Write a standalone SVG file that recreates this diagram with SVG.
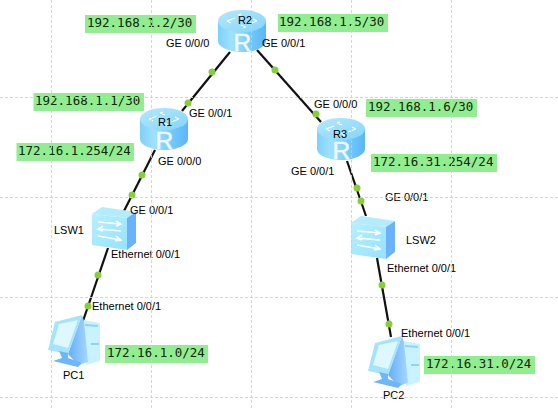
<svg xmlns="http://www.w3.org/2000/svg" width="558" height="409" viewBox="0 0 558 409">
<style>
.grid{stroke:#cfcfcf;stroke-width:1;stroke-dasharray:3 2;fill:none}
.link{stroke:#111;stroke-width:2.2;fill:none}
.dot{fill:#86cf3a}
.t{font-family:"Liberation Sans",Arial,sans-serif;font-size:11px;fill:#000}
.ip{font-family:"DejaVu Sans Mono","Liberation Mono",monospace;font-size:12.5px;fill:#16240a}
.ipbg{fill:#90ee90;height:18px}
.rarrow{fill:none;stroke:#fff;stroke-width:1.2}
</style>
<defs>
<linearGradient id="rb" x1="0" x2="1" y1="0" y2="0">
<stop offset="0" stop-color="#7fd0fb"/><stop offset=".3" stop-color="#9fe2fe"/><stop offset=".75" stop-color="#6cc4fa"/><stop offset="1" stop-color="#5cb6f6"/>
</linearGradient>
<linearGradient id="rt" x1="0" x2="1" y1="0" y2="1">
<stop offset="0" stop-color="#b4e9fe"/><stop offset="1" stop-color="#84d4fb"/>
</linearGradient>
<linearGradient id="sw" x1="0" x2="1" y1="0" y2="1">
<stop offset="0" stop-color="#b6f0ff"/><stop offset="1" stop-color="#96e2fc"/>
</linearGradient>
<linearGradient id="pb" x1="0" x2="1" y1="0" y2="0">
<stop offset="0" stop-color="#64aefa"/><stop offset="1" stop-color="#a6d6fd"/>
</linearGradient>
<symbol id="router" width="48" height="42" viewBox="0 0 48 42" overflow="visible">
<path d="M0 11V31C0 37 11 42 24 42S48 37 48 31V11Z" fill="url(#rb)"/>
<ellipse cx="24" cy="11" rx="24" ry="11" fill="url(#rt)"/>
<path class="rarrow" d="M9 11l8-3M9 11l4 2M39 11l-8 3M39 11l-4-2M20 5l5 2M20 5l3-1M28 17l-5-2M28 17l-3 1"/>
<text x="15.500" y="41" font-family="Liberation Sans,Arial,sans-serif" font-size="24.500" fill="#eefaff" stroke="#eefaff" stroke-width=".5">R</text>
</symbol>
<symbol id="switch" width="44" height="43" viewBox="0 0 44 43" overflow="visible">
<path d="M0 7L10 0L44 5L35 11Z" fill="#b4ecfe"/>
<path d="M35 11L44 5V36L35 43Z" fill="#6cb2fb"/>
<path d="M0 7L35 11V43L0 38Z" fill="url(#sw)"/>
<path d="M6 15L29 17M24 14l5 3l-5 2M29 24L6 22M11 19l-5 3l5 2M6 29L29 33M24 29l5 4l-6 1" fill="none" stroke="#fff" stroke-width="1.5"/>
</symbol>
<symbol id="pc" width="53" height="52" viewBox="0 0 53 52" overflow="visible">
<path d="M36 5L52 8V46L38 50Z" fill="#c8f2ff"/>
<path d="M37 9L50 10V12L37 11ZM43 28H51V30H43Z" fill="#8fd3f5"/>
<path d="M34 0L36 6L40 47L30 50L20 39Z" fill="url(#pb)"/>
<path d="M7 7L34 0L20 39L0 35Z" fill="#a4e4fd"/>
<path d="M11 9L30 5L20 33L5 29Z" fill="#dff7ff"/>
<path d="M11 36L20 38L20 43L34 48L30 52L5 46L14 43Z" fill="#6db6f7"/>
</symbol>
</defs>
<rect width="558" height="409" fill="#fff"/>
<g id="connectors">
<path class="link" d="M230 52L182 111"/>
<path class="link" d="M257 50L321 122"/>
<path class="link" d="M155 150L124 211"/>
<path class="link" d="M108 248L83 321"/>
<path class="link" d="M347 161L366 216"/>
<path class="link" d="M377 258L391 337"/>
<g class="dot">
<circle cx="212" cy="72" r="3.500"/><circle cx="188" cy="103" r="3.500"/>
<circle cx="275" cy="70" r="3.500"/><circle cx="316" cy="114" r="3.500"/>
<circle cx="142" cy="175" r="3.500"/><circle cx="132" cy="195" r="3.500"/>
<circle cx="98" cy="275" r="3.500"/><circle cx="88" cy="306" r="3.500"/>
<circle cx="357" cy="188" r="3.500"/><circle cx="361" cy="201" r="3.500"/>
<circle cx="382" cy="285" r="3.500"/><circle cx="389" cy="324" r="3.500"/>
</g>
</g>
<g id="R2"><use href="#router" x="218" y="10"/><text class="t" x="238" y="24">R2</text>
<text class="t" x="166" y="47">GE 0/0/0</text><text class="t" x="262" y="47">GE 0/0/1</text>
<rect class="ipbg" x="85" y="15" width="111"/><text class="ip" x="87" y="27">192.168.1.2/30</text>
<rect class="ipbg" x="278" y="14" width="110"/><text class="ip" x="279" y="26">192.168.1.5/30</text></g>
<g id="R1"><use href="#router" x="140" y="108"/><text class="t" x="158" y="126">R1</text>
<text class="t" x="189" y="117">GE 0/0/1</text><text class="t" x="158" y="165">GE 0/0/0</text>
<rect class="ipbg" x="33.500" y="93" width="110.500"/><text class="ip" x="35" y="105">192.168.1.1/30</text>
<rect class="ipbg" x="16.500" y="143" width="117.500"/><text class="ip" x="18" y="155">172.16.1.254/24</text></g>
<g id="R3"><use href="#router" x="317" y="118"/><text class="t" x="333" y="138">R3</text>
<text class="t" x="314" y="108">GE 0/0/0</text><text class="t" x="291" y="175">GE 0/0/1</text>
<rect class="ipbg" x="366" y="99" width="111"/><text class="ip" x="368" y="111">192.168.1.6/30</text>
<rect class="ipbg" x="371" y="154" width="126"/><text class="ip" x="373" y="166">172.16.31.254/24</text></g>
<g id="LSW1"><use href="#switch" x="92" y="207"/><text class="t" x="54" y="234">LSW1</text>
<text class="t" x="130" y="214">GE 0/0/1</text><text class="t" x="111" y="258">Ethernet 0/0/1</text></g>
<g id="LSW2"><use href="#switch" x="351" y="216"/><text class="t" x="406" y="244">LSW2</text>
<text class="t" x="385" y="201">GE 0/0/1</text><text class="t" x="387" y="272">Ethernet 0/0/1</text></g>
<g id="PC1"><use href="#pc" x="48" y="315"/><text class="t" x="63" y="379">PC1</text>
<text class="t" x="92" y="310">Ethernet 0/0/1</text>
<rect class="ipbg" x="105" y="345" width="103"/><text class="ip" x="107" y="357">172.16.1.0/24</text></g>
<g id="PC2"><use href="#pc" x="368" y="336"/><text class="t" x="383" y="399">PC2</text>
<text class="t" x="401" y="337">Ethernet 0/0/1</text>
<rect class="ipbg" x="424" y="356" width="111"/><text class="ip" x="426" y="368">172.16.31.0/24</text></g>
<g id="grid" opacity=".85">
<path class="grid" d="M51.500 0V409M151.500 0V409M251.500 0V409M351.500 0V409M451.500 0V409M0 97.500H558M0 197.500H558M0 297.500H558M0 397.500H558"/>
</g>
</svg>
